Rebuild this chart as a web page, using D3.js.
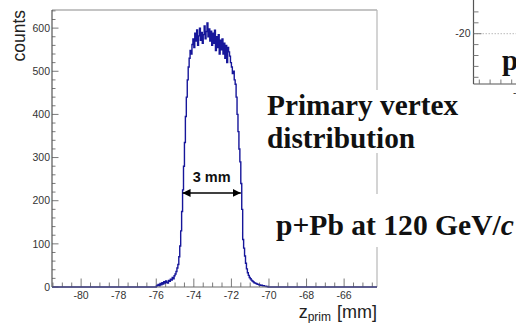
<!DOCTYPE html>
<html><head><meta charset="utf-8">
<script src="https://cdn.jsdelivr.net/npm/d3@7"></script>
<style>
html,body{margin:0;padding:0;background:#fff;overflow:hidden}
svg{display:block}
</style></head>
<body>
<svg id="c" width="516" height="323"></svg>
<script>
// ---- data ----
const binWidth = 0.05;
const firstEdge = -76.0;
const counts = [
  2,4,6,3,8,5,10,7,12,9, 14,11,9,15,13,18,16,22,19,26,          // -76.0 .. -75.0
  30,36,44,52,70,95,130,175,225,280,                            // -75.0 .. -74.5
  335,395,440,480,510,530,548,540,562,575,                      // -74.5 .. -74.0
  555,588,570,596,560,582,600,572,590,565,                      // -74.0 .. -73.5
  585,605,575,592,612,580,598,570,593,560,                      // -73.5 .. -73.0
  588,565,595,548,580,555,585,540,572,550,                      // -73.0 .. -72.5
  575,540,565,530,560,520,555,545,535,520,                      // -72.5 .. -72.0
  510,495,500,480,470,440,400,360,320,290,                      // -72.0 .. -71.5
  240,180,110,90,72,55,42,33,27,22,                             // -71.5 .. -71.0
  19,16,14,12,10,9,8,7,6,5,                                     // -71.0 .. -70.5
  5,4,4,3,3,2,2,1,1,0                                           // -70.5 .. -70.0
];
const binEdges = counts.map((c,i)=>+(firstEdge+i*binWidth).toFixed(2));
const xMajorTicks = [-80,-78,-76,-74,-72,-70,-68,-66];
const yMajorTicks = [0,100,200,300,400,500,600];
const xDomain = [-81.55,-64.25];
const yDomain = [0,642];
const widthMarker = [-74.6,-71.5]; // "3 mm" arrow ends
const widthMarkerLevel = 218;
// neighbouring chart fragment (top right)
const fragYTick = [-20];

const svg = d3.select("#c");
const L=52,R=377,T=10,B=287;
const x = d3.scaleLinear().domain(xDomain).range([L,R]);
const y = d3.scaleLinear().domain(yDomain).range([B,T]);

// frame: top and right
svg.append("line").attr("x1",L).attr("x2",R).attr("y1",T).attr("y2",T).attr("stroke","#8a8a8a").attr("stroke-width",1.2);
svg.append("line").attr("x1",R).attr("x2",R).attr("y1",T).attr("y2",B).attr("stroke","#b8b8b8").attr("stroke-width",1.2);

// minor ticks
const xMinor = d3.range(-81.5,-64.25,0.5).filter(v=>Math.abs(v/2-Math.round(v/2))>1e-6);
const yMinor = d3.range(0,642,20).filter(v=>v%100!==0);
const tickCol="#7a7a7a";
svg.append("g").selectAll("line").data(xMinor).join("line")
  .attr("x1",d=>x(d)).attr("x2",d=>x(d)).attr("y1",B).attr("y2",B-4.5).attr("stroke",tickCol).attr("stroke-width",1);
svg.append("g").selectAll("line").data(xMajorTicks).join("line")
  .attr("x1",d=>x(d)).attr("x2",d=>x(d)).attr("y1",B).attr("y2",B-8.5).attr("stroke",tickCol).attr("stroke-width",1);
svg.append("g").selectAll("line").data(yMinor).join("line")
  .attr("x1",L).attr("x2",L+3.5).attr("y1",d=>y(d)).attr("y2",d=>y(d)).attr("stroke",tickCol).attr("stroke-width",1);
svg.append("g").selectAll("line").data(yMajorTicks).join("line")
  .attr("x1",L).attr("x2",L+6.5).attr("y1",d=>y(d)).attr("y2",d=>y(d)).attr("stroke",tickCol).attr("stroke-width",1);

// tick labels
svg.append("g").selectAll("text").data(xMajorTicks).join("text")
  .attr("x",d=>x(d)).attr("y",B+11.5).attr("text-anchor","middle")
  .attr("font-family","Liberation Sans, Arial, sans-serif").attr("font-size",10.5).attr("fill","#333")
  .text(d=>d);
svg.append("g").selectAll("text").data(yMajorTicks).join("text")
  .attr("x",L-2).attr("y",d=>y(d)+3.7).attr("text-anchor","end")
  .attr("font-family","Liberation Sans, Arial, sans-serif").attr("font-size",10.5).attr("fill","#333")
  .text(d=>d);

// histogram
const pts = binEdges.map((e,i)=>({x:e,c:counts[i]}));
pts.unshift({x:xDomain[0],c:0});
pts.push({x:binEdges[binEdges.length-1]+binWidth,c:0});
pts.push({x:xDomain[1],c:0});
const line = d3.line().x(d=>x(d.x)).y(d=>y(d.c)).curve(d3.curveStepAfter);
svg.append("path").attr("d",line(pts)).attr("fill","none").attr("stroke","#16169a").attr("stroke-width",1.4);

// axes lines
svg.append("line").attr("x1",L).attr("x2",L).attr("y1",T).attr("y2",B).attr("stroke","#555").attr("stroke-width",1.2);
svg.append("line").attr("x1",L).attr("x2",R).attr("y1",B).attr("y2",B).attr("stroke","#6a6a6a").attr("stroke-width",1);

// axis titles
svg.append("text").attr("transform",`translate(${25},${T}) rotate(-90)`).attr("text-anchor","end")
  .attr("font-family","Liberation Sans, Arial, sans-serif").attr("font-size",17.5).attr("fill","#222").text("counts");
const xt = svg.append("text").attr("x",R).attr("y",317.5).attr("text-anchor","end")
  .attr("font-family","Liberation Sans, Arial, sans-serif").attr("font-size",18).attr("fill","#222");
xt.append("tspan").text("z");
xt.append("tspan").attr("font-size",12).attr("dy",3).text("prim");
xt.append("tspan").attr("dy",-3).attr("dx",6).text("[mm]");

// 3 mm marker
const defs = svg.append("defs");
defs.append("marker").attr("id","ah").attr("viewBox","0 0 10 10").attr("refX",10).attr("refY",5)
  .attr("markerWidth",8).attr("markerHeight",8).attr("markerUnits","userSpaceOnUse").attr("orient","auto-start-reverse")
  .append("path").attr("d","M0,0L10,5L0,10z").attr("fill","#000");
svg.append("line").attr("x1",x(widthMarker[0])).attr("x2",x(widthMarker[1]))
  .attr("y1",y(widthMarkerLevel)).attr("y2",y(widthMarkerLevel)).attr("stroke","#000").attr("stroke-width",1.6)
  .attr("marker-start","url(#ah)").attr("marker-end","url(#ah)");
svg.append("text").attr("x",(x(widthMarker[0])+x(widthMarker[1]))/2).attr("y",y(widthMarkerLevel)-10.5)
  .attr("text-anchor","middle").attr("font-family","Liberation Sans, Arial, sans-serif").attr("font-weight","bold")
  .attr("font-size",14.5).attr("fill","#111").text("3 mm");

// fragment of neighbouring chart (top right)
const fy = d3.scaleLinear().domain([-30,-20]).range([33.7+54.5,33.7]);
const fL=473.5, fB=84;
svg.append("line").attr("x1",fL).attr("x2",516).attr("y1",fy(-20)).attr("y2",fy(-20))
  .attr("stroke","#bbb").attr("stroke-dasharray","1.5,1.5");
svg.append("line").attr("x1",fL).attr("x2",fL).attr("y1",0).attr("y2",fB).attr("stroke","#555").attr("stroke-width",1.2);
svg.append("line").attr("x1",fL).attr("x2",516).attr("y1",fB).attr("y2",fB).attr("stroke","#555").attr("stroke-width",1.2);
const fMinor = d3.range(-28,-14,2).filter(v=>v!==-20);
svg.append("g").selectAll("line").data(fMinor).join("line")
  .attr("x1",fL).attr("x2",fL+5).attr("y1",d=>fy(d)).attr("y2",d=>fy(d)).attr("stroke",tickCol);
svg.append("g").selectAll("line").data(fragYTick).join("line")
  .attr("x1",fL).attr("x2",fL+8).attr("y1",d=>fy(d)).attr("y2",d=>fy(d)).attr("stroke",tickCol);
svg.append("text").attr("x",fL-3).attr("y",fy(-20)+3.7).attr("text-anchor","end")
  .attr("font-family","Liberation Sans, Arial, sans-serif").attr("font-size",10.5).attr("fill","#333").text(fragYTick[0]);
const fx = d3.scaleLinear().domain([0,4]).range([479.3,479.3+4*10.8]);
svg.append("g").selectAll("line").data([0,1,2,3]).join("line")
  .attr("x1",d=>fx(d)).attr("x2",d=>fx(d)).attr("y1",fB).attr("y2",fB-4.5).attr("stroke",tickCol);
svg.append("text").attr("x",513).attr("y",fB+12).attr("font-family","Liberation Sans, Arial, sans-serif")
  .attr("font-size",10.5).attr("fill","#333").text("-2");

// text labels with white boxes
svg.append("rect").attr("x",262).attr("y",90).attr("width",206).attr("height",63).attr("fill","#fff");
svg.append("rect").attr("x",270).attr("y",194).attr("width",246).attr("height",53).attr("fill","#fff");
const serif = "Liberation Serif, Times New Roman, serif";
svg.append("text").attr("x",267).attr("y",115).attr("font-family",serif).attr("font-weight","bold")
  .attr("font-size",29.3).attr("fill","#111").text("Primary vertex");
svg.append("text").attr("x",267).attr("y",148).attr("font-family",serif).attr("font-weight","bold")
  .attr("font-size",29.3).attr("fill","#111").text("distribution");
const t3 = svg.append("text").attr("x",276).attr("y",235).attr("font-family",serif).attr("font-weight","bold")
  .attr("font-size",29.6).attr("fill","#111");
t3.append("tspan").text("p+Pb at 120 GeV/");
t3.append("tspan").attr("font-style","italic").text("c");
svg.append("text").attr("x",502).attr("y",70).attr("font-family",serif).attr("font-weight","bold")
  .attr("font-size",29).attr("fill","#111").text("p");
</script>
</body></html>
